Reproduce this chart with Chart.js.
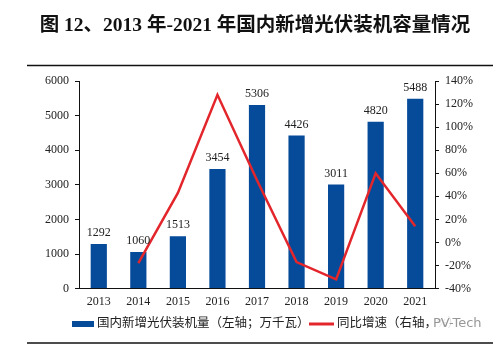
<!DOCTYPE html>
<html><head><meta charset="utf-8">
<script src="https://cdn.jsdelivr.net/npm/chart.js@4/dist/chart.umd.min.js"></script>
<style>html,body{margin:0;padding:0;background:#fff}#wrap{width:500px;height:345px}</style>
</head><body><div id="wrap"><canvas id="c" width="500" height="345"></canvas></div>
<script>
const years = ['2013','2014','2015','2016','2017','2018','2019','2020','2021'];
const capacity = [1292,1060,1513,3454,5306,4426,3011,4820,5488];
const growth = [null,-18,43,128,54,-17,-32,60,14];
const titleText = '图 12、2013 年-2021 年国内新增光伏装机容量情况';
const barLabel = '国内新增光伏装机量（左轴；万千瓦）';
const lineLabel = '同比增速（右轴，%）';

const SERIF = '"Liberation Serif","Noto Sans CJK SC",serif';
const deco = {
  id:'deco',
  afterDraw(chart){
    const ctx = chart.ctx;
    ctx.save();
    ctx.fillStyle = '#111';
    ctx.font = 'bold 19.5px ' + SERIF;
    ctx.textAlign = 'center'; ctx.textBaseline = 'middle';
    ctx.fillText(titleText, 255, 26);
    ctx.strokeStyle = '#111'; ctx.lineWidth = 1.5;
    ctx.beginPath(); ctx.moveTo(27,65.5); ctx.lineTo(493,65.5); ctx.stroke();
    ctx.beginPath(); ctx.moveTo(27,343); ctx.lineTo(493,343); ctx.stroke();
    // legend
    const ds = chart.data.datasets;
    ctx.font = '12.5px ' + SERIF;
    ctx.textAlign = 'left'; ctx.textBaseline = 'middle';
    const ly = 324;
    ctx.fillStyle = ds[0].backgroundColor;
    ctx.fillRect(72, ly-3, 22, 6);
    ctx.fillStyle = '#222';
    ctx.fillText(ds[0].label, 97, ly);
    ctx.fillStyle = ds[1].borderColor;
    ctx.fillRect(309, ly-1.5, 25, 3);
    ctx.fillStyle = '#222';
    ctx.fillText(ds[1].label, 337, ly);
    ctx.fillStyle = 'rgba(255,255,255,0.85)';
    ctx.fillRect(432, ly-8, 52, 16);
    ctx.fillStyle = 'rgba(140,140,140,0.9)';
    ctx.font = '13px "DejaVu Sans",sans-serif';
    ctx.fillText('PV-Tech', 433, ly);
    ctx.restore();
  },
  afterDatasetsDraw(chart){
    const ctx = chart.ctx;
    const meta = chart.getDatasetMeta(0);
    ctx.save();
    ctx.fillStyle = '#222';
    ctx.font = '12px ' + SERIF;
    ctx.textAlign = 'center'; ctx.textBaseline = 'bottom';
    meta.data.forEach((el,i)=>{ ctx.fillText(String(capacity[i]), el.x, el.y - 5); });
    ctx.restore();
  }
};

new Chart(document.getElementById('c'), {
  data:{
    labels: years,
    datasets:[
      {type:'bar', label:barLabel, data:capacity, backgroundColor:'#064B9A', yAxisID:'y', order:1, barPercentage:0.82, categoryPercentage:0.5},
      {type:'line', label:lineLabel, data:growth, borderColor:'#E3262B', backgroundColor:'#E3262B', borderWidth:2.5, pointRadius:0, tension:0, yAxisID:'y1', order:0}
    ]
  },
  options:{
    responsive:false, animation:false,
    layout:{padding:{top:81,left:0,right:0,bottom:30}},
    plugins:{ tooltip:{enabled:false}, legend:{display:false} },
    scales:{
      x:{grid:{display:false, drawTicks:false, tickLength:0}, border:{display:true,color:'#111',width:1}, ticks:{color:'#222', font:{size:12,family:SERIF}, padding:6}},
      y:{position:'left', min:0, max:6000, ticks:{stepSize:1000, color:'#222', font:{size:12,family:SERIF}, padding:6, callback:v=>String(v)},
         grid:{drawOnChartArea:false, drawTicks:true, tickLength:4, color:'#111'}, border:{display:true,color:'#111',width:1},
         afterFit(s){s.width=79;}},
      y1:{position:'right', min:-40, max:140, ticks:{stepSize:20, color:'#222', font:{size:12,family:SERIF}, padding:6, callback:v=>v+'%'},
         grid:{drawOnChartArea:false, drawTicks:true, tickLength:4, color:'#111'}, border:{display:true,color:'#111',width:1},
         afterFit(s){s.width=65;}}
    }
  },
  plugins:[deco]
});
</script></body></html>
